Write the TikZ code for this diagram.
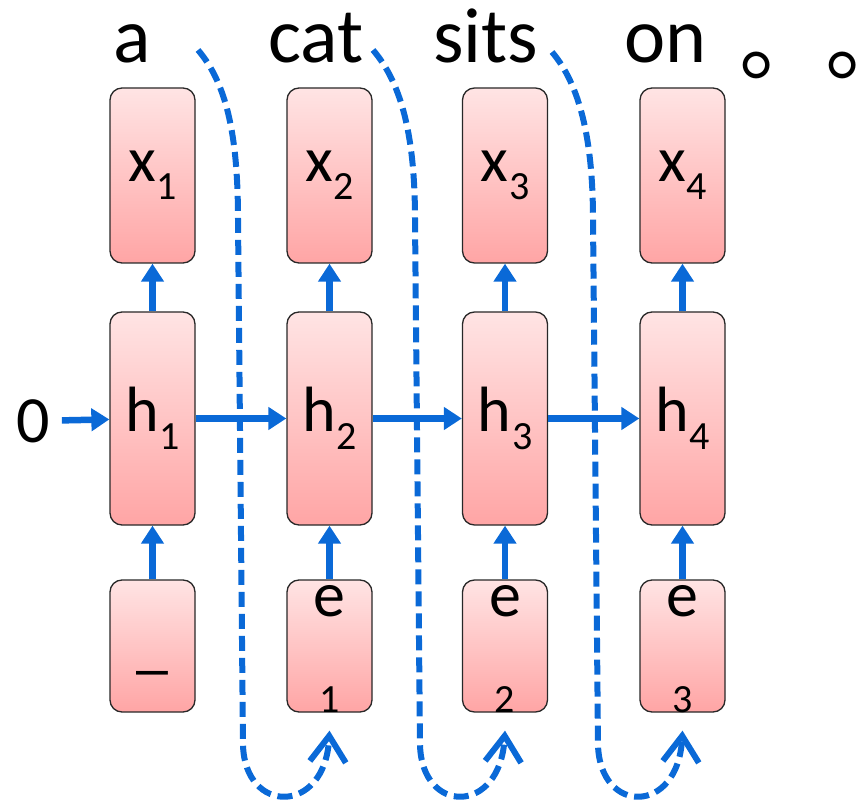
\documentclass[tikz,border=0pt]{standalone}
\usepackage{fontspec}
\setmainfont{Carlito}
\newfontfamily\cjkfont{Noto Sans CJK SC}
\usetikzlibrary{arrows.meta}
\definecolor{myblue}{RGB}{10,105,215}
\definecolor{pinktop}{RGB}{255,228,228}
\definecolor{pinkbot}{RGB}{255,165,165}
\definecolor{edge}{RGB}{40,40,40}
\newcommand{\lbl}[2]{#1\kern1pt\raisebox{-18pt}{\fontsize{40}{44}\selectfont #2}}
\tikzset{
  box/.style={draw=edge, line width=1.3pt, rounded corners=12pt,
    top color=pinktop, bottom color=pinkbot, minimum width=85pt,
    inner sep=0pt, font=\fontsize{64}{70}\selectfont},
  subfont/.style={inner sep=0pt, font=\fontsize{40}{44}\selectfont},
  bigfont/.style={inner sep=0pt, font=\fontsize{64}{70}\selectfont},
  word/.style={inner sep=0pt, anchor=base west, font=\fontsize{78}{84}\selectfont},
  conn/.style={draw=myblue, line width=6.5pt, -{Triangle[width=22pt,length=18pt]}},
  loopline/.style={draw=myblue, line width=6pt, dash pattern=on 15pt off 7pt,
    -{Straight Barb[length=26pt,width=36pt,line width=6pt]}}
}
\begin{document}
\begin{tikzpicture}[x=1pt,y=-1pt]
\useasboundingbox (0,0) rectangle (862,802);

% top words
\node[word] (w1) at (113,63) {a};
\node[word] (w2) at (268,63) {cat};
\node[word] (w3) at (433,63) {sits};
\node[word] (w4) at (624,63) {on};
\node[word, font=\fontsize{88}{92}\cjkfont] (w5) at (739,74)
  {。\kern-2pt\makebox[30pt][l]{。}};

% x row
\node[box, minimum height=175pt] (x1) at (152.5,175.5) {\lbl{x}{1}};
\node[box, minimum height=175pt] (x2) at (329.5,175.5) {\lbl{x}{2}};
\node[box, minimum height=175pt] (x3) at (505,175.5) {\lbl{x}{3}};
\node[box, minimum height=175pt] (x4) at (682.5,175.5) {\lbl{x}{4}};

% h row
\node[box, minimum height=213pt] (h1) at (152.5,418.5) {\lbl{h}{1}};
\node[box, minimum height=213pt] (h2) at (329.5,418.5) {\lbl{h}{2}};
\node[box, minimum height=213pt] (h3) at (505,418.5) {\lbl{h}{3}};
\node[box, minimum height=213pt] (h4) at (682.5,418.5) {\lbl{h}{4}};

% e row
\node[box, minimum height=132pt,
  label={[bigfont,anchor=base,yshift=46pt]south:\_}] (e1) at (152.5,646) {};
\node[box, minimum height=132pt,
  label={[bigfont,anchor=base,yshift=-37pt]north:e},
  label={[subfont,anchor=base]south:1}] (e2) at (329.5,646) {};
\node[box, minimum height=132pt,
  label={[bigfont,anchor=base,yshift=-37pt]north:e},
  label={[subfont,anchor=base]south:2}] (e3) at (505,646) {};
\node[box, minimum height=132pt,
  label={[bigfont,anchor=base,yshift=-37pt]north:e},
  label={[subfont,anchor=base]south:3}] (e4) at (682.5,646) {};

% initial state
\node[inner sep=0pt, font=\fontsize{66}{70}\selectfont] (zero) at (33,421) {0};

% solid connectors
\draw[conn, shorten <=12pt] (zero) -- (h1);
\draw[conn] (h1) -- (h2);
\draw[conn] (h2) -- (h3);
\draw[conn] (h3) -- (h4);
\foreach \i in {1,2,3,4} {
  \draw[conn] (h\i) -- (x\i);
  \draw[conn] (e\i) -- (h\i);
}

% dashed feedback loops
\coordinate (s1) at (198,50);
\coordinate (s2) at (373,50);
\coordinate (s3) at (552,52);
\draw[loopline] (s1) .. controls (228,85) and (238,140) .. (238,220)
  -- (243,745) .. controls (245,815) and (325,815) .. ([yshift=-18pt]e2.south);
\draw[loopline] (s2) .. controls (403,85) and (415,140) .. (415,220)
  -- (420,745) .. controls (422,815) and (500,815) .. ([yshift=-18pt]e3.south);
\draw[loopline] (s3) .. controls (580,85) and (593,140) .. (593,220)
  -- (598,745) .. controls (600,815) and (678,815) .. ([yshift=-18pt]e4.south);
\end{tikzpicture}
\end{document}
